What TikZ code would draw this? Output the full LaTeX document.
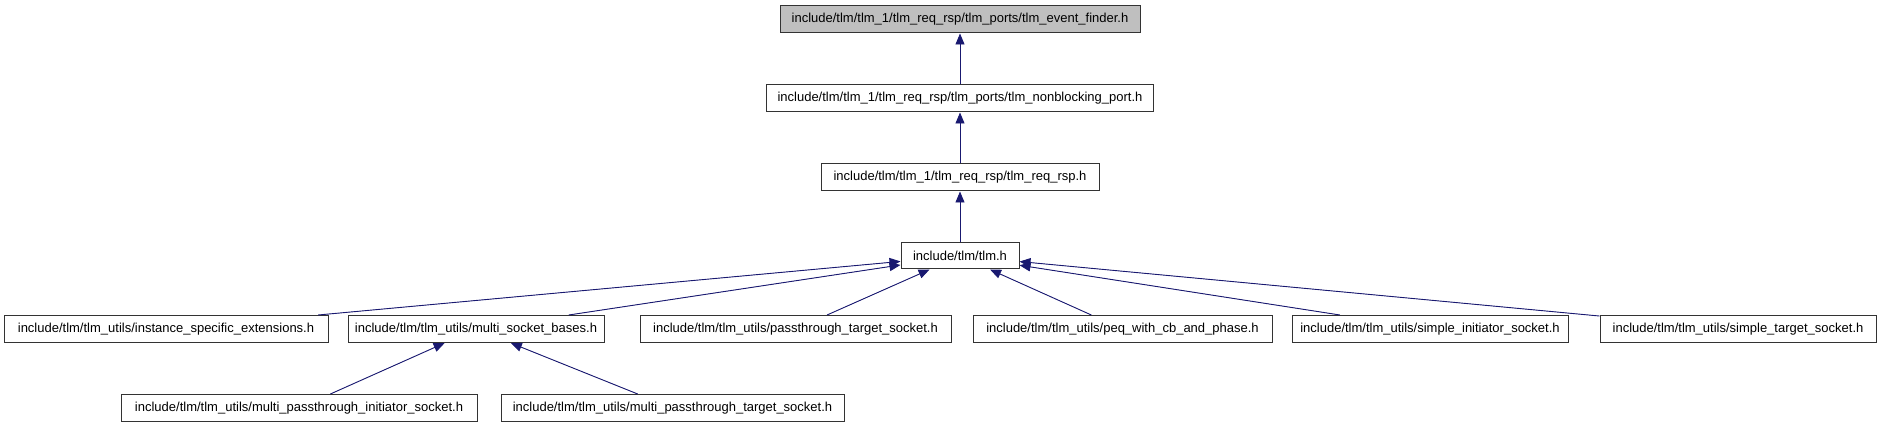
\documentclass[tikz,border=0pt]{standalone}
\usepackage{fontspec}
\setmainfont{Liberation Sans}
\usetikzlibrary{positioning,arrows.meta}
\definecolor{edgeblue}{RGB}{25,25,112}
\definecolor{rootgray}{RGB}{191,191,191}

\begin{document}
\begin{tikzpicture}[
  x=1pt, y=-1pt,
  node distance=51pt,
  box/.style={draw=black!80, line width=1pt, minimum height=27pt, inner sep=0pt, font=\fontsize{13}{15}\selectfont},
  root/.style={box, fill=rootgray},
  arr/.style={-{Triangle[length=11pt,width=9pt]}, draw=edgeblue, fill=edgeblue, line width=0.9pt}]
\useasboundingbox (0,0) rectangle (1883,427);
\node[root, minimum width=360pt] (evf) at (960,19.5) {include/tlm/tlm\_1/tlm\_req\_rsp/tlm\_ports/tlm\_event\_finder.h};
\node[box, minimum width=387pt, below=of evf] (nbp) {include/tlm/tlm\_1/tlm\_req\_rsp/tlm\_ports/tlm\_nonblocking\_port.h};
\node[box, minimum width=278pt, below=of nbp] (rqr) {include/tlm/tlm\_1/tlm\_req\_rsp/tlm\_req\_rsp.h};
\node[box, minimum width=118pt, minimum height=26pt, below=of rqr] (tlm) {include/tlm/tlm.h};
% utils headers
\node[box, minimum width=324pt] (ise) at (166,329) {include/tlm/tlm\_utils/instance\_specific\_extensions.h};
\node[box, minimum width=256pt] (msb) at (476,329) {include/tlm/tlm\_utils/multi\_socket\_bases.h};
\node[box, minimum width=311pt] (pts) at (795.5,329) {include/tlm/tlm\_utils/passthrough\_target\_socket.h};
\node[box, minimum width=299pt] (peq) at (1122.5,329) {include/tlm/tlm\_utils/peq\_with\_cb\_and\_phase.h};
\node[box, minimum width=276pt] (sis) at (1430,329) {include/tlm/tlm\_utils/simple\_initiator\_socket.h};
\node[box, minimum width=276pt] (sts) at (1738,329) {include/tlm/tlm\_utils/simple\_target\_socket.h};
\node[box, minimum width=356pt] (mpi) at (299,408) {include/tlm/tlm\_utils/multi\_passthrough\_initiator\_socket.h};
\node[box, minimum width=343pt] (mpt) at (672.5,408) {include/tlm/tlm\_utils/multi\_passthrough\_target\_socket.h};
\foreach \a/\b in {nbp/evf,rqr/nbp,tlm/rqr} \draw[arr] (\a) -- (\b);
\foreach \a/\b in {ise/tlm,msb/tlm,pts/tlm,peq/tlm,sis/tlm,sts/tlm,mpi/msb,mpt/msb} \draw[arr] (\a) -- (\b);
\end{tikzpicture}
\end{document}
